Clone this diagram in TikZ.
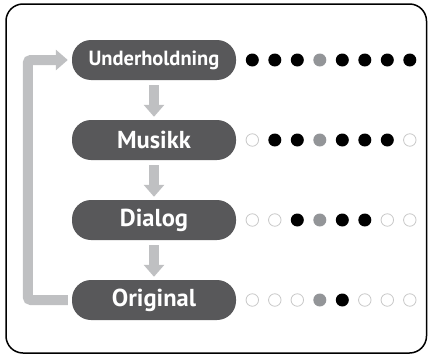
\documentclass[tikz,border=0pt]{standalone}
\usepackage{fontspec}
\setsansfont{PT Sans}
\usetikzlibrary{arrows.meta}
\definecolor{boxgray}{HTML}{58585A}
\definecolor{arrgray}{HTML}{BFC0C2}
\definecolor{dotgray}{HTML}{939598}
\definecolor{ringgray}{HTML}{C8C8C8}
\begin{document}
\begin{tikzpicture}[x=1pt,y=-1pt,
  stage/.style={fill=boxgray, rounded corners=19pt, minimum width=164pt, minimum height=40pt,
    text=white, font=\sffamily\bfseries\fontsize{24.5}{24.5}\selectfont, inner sep=0pt},
  small/.style={font=\sffamily\bfseries\fontsize{20.5}{20.5}\selectfont},
  flow/.style={draw=arrgray, line width=10pt, -{Triangle[width=20pt,length=12pt,fill=arrgray]}},
  full/.style={circle, fill=black, minimum size=13pt, inner sep=0pt},
  mid/.style={circle, fill=dotgray, minimum size=13pt, inner sep=0pt},
  empty/.style={circle, draw=ringgray, fill=white, line width=0.8pt, minimum size=12.5pt, inner sep=0pt},
  frame/.style={draw=black, line width=1.5pt, rounded corners=17pt}
]
\useasboundingbox (0,0) rectangle (428,356);
\draw[frame] (6,4) rectangle (426.5,353);

\node[stage, small] (u) at (154,60) {Underholdning};
\node[stage] (m) at (154,140) {Musikk};
\node[stage] (d) at (154,220) {Dialog};
\node[stage] (o) at (154,300) {Original};

\draw[flow, shorten <=5pt, shorten >=3pt] (u) -- (m);
\draw[flow, shorten <=5pt, shorten >=3pt] (m) -- (d);
\draw[flow, shorten <=5pt, shorten >=3pt] (d) -- (o);
\draw[flow, rounded corners=3pt, shorten <=4pt, shorten >=4pt] (o.west) -- ++(-44,0) |- (u.west);

% dot rows
\foreach \s [count=\i] in {full,full,full,mid,full,full,full,full}
  \node[\s] (a\i) at ({252.3+22.5*(\i-1)},60) {};
\foreach \s [count=\i] in {empty,full,full,mid,full,full,full,empty}
  \node[\s] (b\i) at ({252.3+22.5*(\i-1)},140) {};
\foreach \s [count=\i] in {empty,empty,full,mid,full,full,empty,empty}
  \node[\s] (c\i) at ({252.3+22.5*(\i-1)},220) {};
\foreach \s [count=\i] in {empty,empty,empty,mid,full,empty,empty,empty}
  \node[\s] (e\i) at ({252.3+22.5*(\i-1)},300) {};
\end{tikzpicture}
\end{document}
